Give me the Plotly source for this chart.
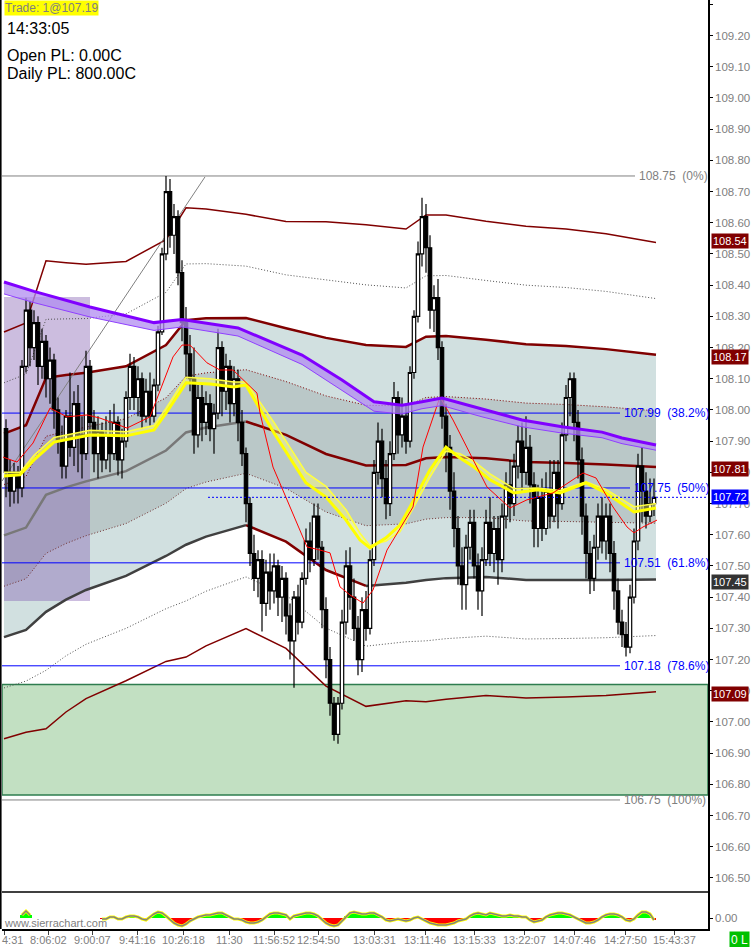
import plotly.graph_objects as go

# ---- candles (one bar ~ 4 px in the screenshot) ----
bars = list(range(163))
opens = [107.94, 107.80, 107.74, 107.80, 107.75, 108.14, 108.32, 108.20, 108.28, 108.14,
         108.22, 108.10, 108.16, 108.00, 107.90, 107.82, 107.98, 107.88, 108.02, 107.92,
         107.86, 108.14, 107.96, 107.86, 107.93, 107.84, 107.92, 107.86, 107.96, 107.84,
         107.90, 108.04, 108.14, 108.04, 108.10, 107.98, 108.06, 107.98, 108.08, 108.25,
         108.50, 108.70, 108.56, 108.62, 108.44, 108.28, 108.18, 108.10, 107.92, 108.04,
         107.96, 108.02, 107.94, 107.99, 108.20, 108.06, 108.14, 108.02, 108.10, 107.96,
         107.86, 107.70, 107.54, 107.46, 107.52, 107.38, 107.48, 107.42, 107.50, 107.40,
         107.46, 107.34, 107.26, 107.40, 107.32, 107.46, 107.58, 107.52, 107.66, 107.56,
         107.36, 107.20, 107.06, 106.96, 107.06, 107.32, 107.50, 107.40, 107.30, 107.20,
         107.36, 107.30, 107.52, 107.80, 107.90, 107.78, 107.70, 107.86, 108.04, 107.92,
         107.98, 107.90, 108.12, 108.30, 108.50, 108.62, 108.52, 108.32, 108.36, 108.20,
         107.98, 107.88, 107.74, 107.62, 107.50, 107.44, 107.56, 107.64, 107.50, 107.42,
         107.52, 107.64, 107.54, 107.62, 107.52, 107.66, 107.76, 107.70, 107.82, 107.90,
         107.80, 107.88, 107.76, 107.62, 107.72, 107.62, 107.74, 107.66, 107.80, 107.70,
         107.92, 108.04, 108.10, 107.96, 107.84, 107.66, 107.54, 107.46, 107.56, 107.66,
         107.58, 107.66, 107.54, 107.42, 107.32, 107.28, 107.24, 107.40, 107.58, 107.82,
         107.74, 107.66, 107.70]
closes = [107.80, 107.74, 107.80, 107.75, 108.14, 108.32, 108.20, 108.28, 108.14, 108.22,
          108.10, 108.16, 108.00, 107.90, 107.82, 107.98, 107.88, 108.02, 107.92, 107.86,
          108.14, 107.96, 107.86, 107.93, 107.84, 107.92, 107.86, 107.96, 107.84, 107.90,
          108.04, 108.14, 108.04, 108.10, 107.98, 108.06, 107.98, 108.08, 108.25, 108.50,
          108.70, 108.56, 108.62, 108.44, 108.28, 108.18, 108.10, 107.92, 108.04, 107.96,
          108.02, 107.94, 107.99, 108.20, 108.06, 108.14, 108.02, 108.10, 107.96, 107.86,
          107.70, 107.54, 107.46, 107.52, 107.38, 107.48, 107.42, 107.50, 107.40, 107.46,
          107.34, 107.26, 107.40, 107.32, 107.46, 107.58, 107.52, 107.66, 107.56, 107.36,
          107.20, 107.06, 106.96, 107.06, 107.32, 107.50, 107.40, 107.30, 107.20, 107.36,
          107.30, 107.52, 107.80, 107.90, 107.78, 107.70, 107.86, 108.04, 107.92, 107.98,
          107.90, 108.12, 108.30, 108.50, 108.62, 108.52, 108.32, 108.36, 108.20, 107.98,
          107.88, 107.74, 107.62, 107.50, 107.44, 107.56, 107.64, 107.50, 107.42, 107.52,
          107.64, 107.54, 107.62, 107.52, 107.66, 107.76, 107.70, 107.82, 107.90, 107.80,
          107.88, 107.76, 107.62, 107.72, 107.62, 107.74, 107.66, 107.80, 107.70, 107.92,
          108.04, 108.10, 107.96, 107.84, 107.66, 107.54, 107.46, 107.56, 107.66, 107.58,
          107.66, 107.54, 107.42, 107.32, 107.28, 107.24, 107.40, 107.58, 107.82, 107.74,
          107.66, 107.70, 107.72]
highs = [107.97, 107.84, 107.83, 107.82, 108.16, 108.36, 108.35, 108.32, 108.30, 108.26,
         108.24, 108.20, 108.18, 108.04, 107.95, 108.00, 108.12, 108.06, 108.08, 107.98,
         108.19, 108.16, 108.00, 107.98, 107.96, 107.98, 108.00, 108.02, 107.98, 107.94,
         108.06, 108.18, 108.17, 108.14, 108.12, 108.10, 108.12, 108.10, 108.27, 108.52,
         108.75, 108.74, 108.66, 108.64, 108.48, 108.33, 108.24, 108.20, 108.08, 108.08,
         108.06, 108.05, 108.02, 108.26, 108.22, 108.18, 108.16, 108.14, 108.13, 108.00,
         107.88, 107.72, 107.60, 107.55, 107.55, 107.52, 107.54, 107.54, 107.52, 107.50,
         107.48, 107.38, 107.42, 107.44, 107.48, 107.62, 107.64, 107.70, 107.70, 107.58,
         107.40, 107.24, 107.08, 107.08, 107.36, 107.55, 107.56, 107.46, 107.34, 107.40,
         107.42, 107.55, 107.84, 107.96, 107.94, 107.84, 107.90, 108.09, 108.06, 108.04,
         108.02, 108.14, 108.32, 108.54, 108.68, 108.66, 108.56, 108.40, 108.42, 108.22,
         108.02, 107.92, 107.80, 107.66, 107.56, 107.60, 107.68, 107.68, 107.54, 107.56,
         107.68, 107.72, 107.66, 107.66, 107.70, 107.80, 107.84, 107.86, 107.95, 107.96,
         107.98, 107.92, 107.80, 107.76, 107.78, 107.80, 107.84, 107.84, 107.84, 107.96,
         108.08, 108.12, 108.12, 108.00, 107.88, 107.70, 107.58, 107.60, 107.70, 107.72,
         107.70, 107.70, 107.58, 107.46, 107.36, 107.32, 107.44, 107.62, 107.86, 107.88,
         107.80, 107.78, 107.78]
lows = [107.72, 107.69, 107.70, 107.70, 107.72, 108.12, 108.14, 108.16, 108.08, 108.10,
        108.04, 108.02, 107.94, 107.86, 107.78, 107.78, 107.85, 107.82, 107.80, 107.78,
        107.84, 107.92, 107.80, 107.78, 107.80, 107.81, 107.80, 107.84, 107.79, 107.78,
        107.88, 108.00, 108.00, 107.98, 107.94, 107.96, 107.95, 107.96, 108.06, 108.24,
        108.48, 108.52, 108.50, 108.40, 108.22, 108.10, 108.06, 107.86, 107.88, 107.90,
        107.92, 107.90, 107.86, 107.97, 107.98, 108.00, 107.96, 107.98, 107.90, 107.82,
        107.64, 107.50, 107.42, 107.40, 107.29, 107.34, 107.36, 107.38, 107.34, 107.32,
        107.28, 107.20, 107.11, 107.28, 107.30, 107.44, 107.48, 107.50, 107.52, 107.30,
        107.14, 107.02, 106.94, 106.93, 107.04, 107.28, 107.36, 107.26, 107.15, 107.16,
        107.26, 107.28, 107.50, 107.76, 107.72, 107.65, 107.66, 107.84, 107.86, 107.88,
        107.86, 107.88, 108.10, 108.28, 108.46, 108.44, 108.26, 108.25, 108.16, 107.94,
        107.80, 107.68, 107.56, 107.44, 107.36, 107.36, 107.52, 107.46, 107.36, 107.34,
        107.50, 107.50, 107.48, 107.44, 107.48, 107.62, 107.64, 107.66, 107.78, 107.74,
        107.76, 107.70, 107.56, 107.56, 107.58, 107.60, 107.62, 107.64, 107.62, 107.68,
        107.90, 107.98, 107.90, 107.78, 107.60, 107.46, 107.41, 107.42, 107.52, 107.54,
        107.52, 107.48, 107.36, 107.28, 107.24, 107.21, 107.22, 107.38, 107.55, 107.64,
        107.62, 107.64, 107.66]

# ---- VWAP and its standard deviation, read at a few bars ----
band_bars = [-0.5, 5, 10, 15, 20, 30, 40, 45, 50, 60, 70, 80, 90, 100, 105, 110, 120, 130, 140, 150, 162.5]
vwap = [107.598, 107.623, 107.728, 107.752, 107.771, 107.804, 107.870, 107.928, 107.944, 107.963, 107.920,
        107.859, 107.822, 107.824, 107.845, 107.849, 107.845, 107.833, 107.830, 107.825, 107.817]
sigma = [0.163, 0.164, 0.1875, 0.180, 0.174, 0.168, 0.169, 0.180, 0.175, 0.166, 0.171,
         0.186, 0.193, 0.189, 0.195, 0.194, 0.190, 0.189, 0.1875, 0.185, 0.180]

# ---- moving averages ----
purple_bars = [-0.5, 7, 21, 37, 44, 49, 58, 74, 84, 92, 99, 104, 109, 119, 129, 139, 149, 154, 162.5]
purple_hi = [108.41, 108.38, 108.33, 108.28, 108.29, 108.28, 108.263, 108.176, 108.096, 108.026,
             108.015, 108.026, 108.038, 108.003, 107.968, 107.946, 107.929, 107.910, 107.888]
purple_lo = [108.372, 108.344, 108.298, 108.255, 108.266, 108.255, 108.237, 108.146, 108.064, 107.996,
             107.987, 108.004, 108.014, 107.978, 107.946, 107.926, 107.911, 107.892, 107.871]

yellow_bars = [-0.5, 3.5, 7, 12, 21, 30, 37, 40, 45, 51, 57, 60, 67, 75, 80, 85, 88.5, 91, 95, 98.5,
               102, 106, 110, 113.5, 117, 121, 127, 133, 138.5, 145, 150, 157, 162.5]
yellow_a = [107.788, 107.792, 107.840, 107.897, 107.920, 107.917, 107.936, 107.990, 108.087, 108.083,
            108.074, 108.080, 107.926, 107.766, 107.721, 107.647, 107.583, 107.558, 107.590, 107.631,
            107.712, 107.808, 107.881, 107.846, 107.817, 107.776, 107.734, 107.744, 107.734, 107.766,
            107.734, 107.673, 107.686]
yellow_b = [107.800, 107.800, 107.855, 107.912, 107.935, 107.930, 107.950, 108.005, 108.105, 108.100,
            108.090, 108.090, 107.960, 107.800, 107.755, 107.680, 107.605, 107.565, 107.580, 107.610,
            107.690, 107.785, 107.868, 107.860, 107.835, 107.795, 107.748, 107.750, 107.742, 107.770,
            107.745, 107.690, 107.700]

red_bars = [-0.75, 2.75, 6.75, 11, 15.25, 20.25, 23.5, 30.25, 36, 41.75, 44, 46, 50.25, 53.5, 56.75,
            58.5, 62.75, 63.5, 66.75, 70.25, 75.25, 78.5, 81, 83.5, 86, 89.25, 91.75, 95.25, 98.5,
            101.75, 104.25, 108.5, 111.75, 116, 120.25, 126, 130.25, 136.75, 141.75, 144.25, 147.5,
            151.75, 155.25, 157, 159.25, 162.75]
red_vals = [107.849, 107.833, 107.894, 108.006, 107.978, 107.984, 107.974, 107.942, 107.978, 108.170,
            108.208, 108.208, 108.151, 108.128, 108.128, 108.106, 108.054, 107.990, 107.817, 107.712,
            107.561, 107.551, 107.542, 107.433, 107.407, 107.381, 107.423, 107.551, 107.622, 107.689,
            107.881, 108.042, 107.968, 107.862, 107.753, 107.686, 107.712, 107.734, 107.776, 107.798,
            107.782, 107.689, 107.625, 107.606, 107.625, 107.647]

# ---- oscillator in the lower pane ----
osc = [None, None, None, None, 3, 7, 3, None, None, None,
       None, None, None, None, None, None, None, None, None, None,
       None, None, None, None, -1, -1, 1, 1, -1, -1,
       1, 2, 2, 1, -1, -2, 1, 4, 6, 5,
       2, -2, -5, -7, -8, -6, -3, -1, 1, 2,
       3, 3, 4, 5, 5, 3, 1, -1, -1, -2,
       -4, -5, -5, -4, -2, 1, 4, 5, 5, 4,
       3, -1, 2, 3, 4, 5, 5, 4, 2, -2,
       -5, -7, -8, -7, -3, 2, 5, 6, 5, 4,
       4, 5, 5, 3, 1, -2, -3, -2, -1, -2,
       -3, -2, 0, 1, -1, -3, -5, -6, -7, -7,
       -7, -6, -5, -3, -2, -1, 2, 4, 5, 4,
       3, 5, 4, 3, 2, 2, 3, 2, 2, 1,
       1, -2, -4, -3, -2, 1, 3, 4, 5, 5,
       4, 3, 1, -1, -3, -5, -5, -4, -2, 1,
       3, 4, 4, 3, 1, -2, -3, -1, 3, 6,
       6, 4, -2]

# ---- drawing tools ----
fib_levels = [108.75, 107.99, 107.75, 107.51, 107.18, 106.75]
fib_pcts = ["0%", "38.2%", "50%", "61.8%", "78.6%", "100%"]
fib_colors = ["#808080", "#0000FF", "#0000FF", "#0000FF", "#0000FF", "#808080"]
fib_ends = [157.25, 153.5, 156, 153.5, 153.5, 153.5]
fib_label_x = [157.75, 154, 156.5, 154, 154, 154]

zone_x = [-0.5, 21]
zone_y = [107.388, 108.362]
green_zone_y = [106.766, 107.12]
diag_x = [-1, 49.75]
diag_y = [107.772, 108.747]
last_price = 107.72
last_line_start = 50.5

tag_values = [108.54, 108.17, 107.81, 107.72, 107.45, 107.09]
tag_colors = ["#800000", "#800000", "#800000", "#0000FF", "#333333", "#800000"]

tick_bars = [-0.5, 10.5, 21.5, 32.75, 44.25, 55.75, 67, 78, 92, 104.75, 117, 129.5, 142, 154.75, 167]
tick_text = ["4:31", "8:06:02", "9:00:07", "9:41:16", "10:26:18", "11:30", "11:56:52", "12:54:50",
             "13:03:31", "13:11:46", "13:15:33", "13:22:07", "14:07:46", "14:27:50", "15:43:37"]

MAROON = "#800000"
FONT = "Liberation Sans, Arial, sans-serif"
pane_split = 37 / 929
label_y = -11 / 929

fig = go.Figure()
shapes = []


def path_of(xs, ys, close=False):
    p = "M " + " L ".join(f"{x},{y}" for x, y in zip(xs, ys))
    return p + " Z" if close else p


def band_fill(xs, hi, lo, color):
    shapes.append(dict(type="path", xref="x", yref="y", layer="below",
                       path=path_of(list(xs) + list(xs)[::-1], list(hi) + list(lo)[::-1], True),
                       fillcolor=color, line=dict(width=0)))


def band_line(xs, ys, color, width=1.0, dash="solid"):
    shapes.append(dict(type="path", xref="x", yref="y", layer="below", path=path_of(xs, ys),
                       line=dict(color=color, width=width, dash=dash)))


def line(x, y, color, width=1.0, dash=None, yaxis="y", fill=None, fillcolor=None):
    fig.add_trace(go.Scatter(x=x, y=y, mode="lines", yaxis=yaxis, hoverinfo="skip",
                             line=dict(color=color, width=width, dash=dash),
                             fill=fill, fillcolor=fillcolor))


up = {k: [v + k * s for v, s in zip(vwap, sigma)] for k in (1, 2, 3, 4)}
dn = {k: [v - k * s for v, s in zip(vwap, sigma)] for k in (1, 2, 3, 4)}

# green demand zone
shapes.append(dict(type="rect", xref="x", yref="y", x0=-1, x1=175.5, y0=green_zone_y[0], y1=green_zone_y[1],
                   fillcolor="#C2E0C2", line=dict(color="#2E7D4F", width=1.5), layer="below"))
# band fills
band_fill(band_bars, up[2], dn[2], "#D1E0E0")
band_fill(band_bars, up[1], dn[1], "#BAC8C8")
# purple zone box
shapes.append(dict(type="rect", xref="x", yref="y", x0=zone_x[0], x1=zone_x[1], y0=zone_y[0], y1=zone_y[1],
                   fillcolor="rgba(133,98,178,0.42)", line=dict(width=0), layer="below"))
# band lines
band_line(band_bars, up[4], MAROON, 1.5)
band_line(band_bars, dn[4], MAROON, 1.5)
band_line(band_bars, up[3], "#505050", 1, "1px,2px")
band_line(band_bars, dn[3], "#505050", 1, "1px,2px")
band_line(band_bars, up[1], MAROON, 1, "1px,2px")
band_line(band_bars, dn[1], "#703030", 1, "1px,2px")
band_line(band_bars, up[2], MAROON, 2.5)
band_line(band_bars[:10], dn[2][:10], "#404040", 2.5)
band_line(band_bars[9:13], dn[2][9:13], MAROON, 2.5)
band_line(band_bars[12:], dn[2][12:], "#404040", 2.5)
band_line(band_bars[:10], vwap[:10], "#787878", 2.5)
band_line(band_bars[9:], vwap[9:], MAROON, 2.5)
# fib lines and the diagonal
for lvl, col, end in zip(fib_levels, fib_colors, fib_ends):
    band_line([-1, end], [lvl, lvl], col, 1)
band_line(diag_x, diag_y, "#808080", 1)

# candles
fig.add_trace(go.Candlestick(
    x=bars, open=opens, high=highs, low=lows, close=closes,
    increasing=dict(line=dict(color="black", width=1.2), fillcolor="white"),
    decreasing=dict(line=dict(color="black", width=1.2), fillcolor="black"),
    whiskerwidth=0, hoverinfo="skip"))

# moving averages on top
line(yellow_bars, yellow_b, "#FFFF40", 1.5)
line(yellow_bars, yellow_a, "#FFFF00", 3, fill="tonexty", fillcolor="rgba(255,255,120,0.45)")
line(red_bars, red_vals, "#FF0000", 1)
line(purple_bars, purple_lo, "#9040FF", 1)
line(purple_bars, purple_hi, "#8000FF", 3, fill="tonexty", fillcolor="rgba(176,140,240,0.75)")
line([last_line_start, 175.5], [last_price, last_price], "#0000FF", 1, "2px,2px")

# oscillator pane
fig.add_trace(go.Bar(x=bars, y=osc, yaxis="y2", width=1, hoverinfo="skip",
                     marker=dict(color=["#00FF00" if (v is not None and v >= 0) else "#FF0000" for v in osc],
                                 line=dict(width=0))))
line(bars, osc, "#FFFF00", 3, yaxis="y2")
line(bars, osc, "#808080", 1.5, yaxis="y2")

# texts
ann = []
ann.append(dict(xref="paper", yref="paper", x=0, y=1, xanchor="left", yanchor="top", xshift=2,
                text="Trade: 1@107.19", bgcolor="#FFFF00", borderpad=0,
                font=dict(size=12, color="#808080")))
ann.append(dict(xref="paper", yref="paper", x=0, y=1, xanchor="left", yanchor="top", xshift=3, yshift=-18,
                text="14:33:05", font=dict(size=16, color="black")))
ann.append(dict(xref="paper", yref="paper", x=0, y=1, xanchor="left", yanchor="top", xshift=3, yshift=-45,
                text="Open PL: 0.00C", font=dict(size=16, color="black")))
ann.append(dict(xref="paper", yref="paper", x=0, y=1, xanchor="left", yanchor="top", xshift=3, yshift=-63,
                text="Daily PL: 800.00C", font=dict(size=16, color="black")))
for lvl, pct, col, lx in zip(fib_levels, fib_pcts, fib_colors, fib_label_x):
    ann.append(dict(xref="x", yref="y", x=lx, y=lvl, xanchor="left", yanchor="middle",
                    text=f"{lvl:.2f}\u00a0\u00a0({pct})", font=dict(size=12, color=col)))
for val, col in zip(tag_values, tag_colors):
    ann.append(dict(xref="paper", yref="y", x=1, y=val, xanchor="left", yanchor="middle", xshift=3,
                    text=f"{val:.2f}", bgcolor=col, borderpad=1, font=dict(size=11, color="white")))
ann.append(dict(xref="paper", yref="y2", x=0, y=-5, xanchor="left", yanchor="middle",
                text="www.sierrachart.com", font=dict(size=11, color="#808080")))
ann.append(dict(xref="paper", yref="paper", x=1, y=label_y, xanchor="left", yanchor="middle", xshift=21,
                text="0 L", bgcolor="#00C000", borderpad=1, font=dict(size=12, color="white")))
# time labels under the x axis
for i, (tb, tt) in enumerate(zip(tick_bars, tick_text)):
    if i == 0:
        ann.append(dict(xref="paper", yref="paper", x=0, y=label_y, xanchor="left", yanchor="middle",
                        xshift=-2, text=tt, font=dict(size=11, color="#808080")))
    else:
        ann.append(dict(xref="x", yref="paper", x=tb, y=label_y, xanchor="center", yanchor="middle",
                        text=tt, font=dict(size=11, color="#808080")))
for a in ann:
    a["showarrow"] = False

shapes.append(dict(type="line", xref="paper", yref="paper", x0=0, x1=1, y0=pane_split, y1=pane_split,
                   line=dict(color="black", width=1.5)))
shapes.append(dict(type="line", xref="paper", yref="paper", x0=-0.002, x1=-0.002, y0=0, y1=1,
                   line=dict(color="black", width=2)))

fig.update_layout(
    template="none",
    width=751, height=947,
    margin=dict(l=2, r=43, t=0, b=18),
    paper_bgcolor="white", plot_bgcolor="white",
    showlegend=False, boxgap=0.15, boxgroupgap=0, bargap=0,
    font=dict(family=FONT, size=12, color="#808080"),
    annotations=ann,
    shapes=shapes,
    xaxis=dict(range=[-1, 175.5], anchor="y2", tickmode="array", tickvals=tick_bars, showticklabels=False,
               ticks="outside", ticklen=4, tickcolor="#404040", showline=True, linecolor="black",
               linewidth=1.5, showgrid=False, zeroline=False, automargin=False,
               rangeslider=dict(visible=False)),
    yaxis=dict(domain=[pane_split, 1], range=[106.455, 109.314], side="right", anchor="x",
               dtick=0.1, tick0=0, tickformat=".2f", ticks="outside", ticklen=3, tickcolor="black",
               showline=True, linecolor="black", linewidth=1.5, showgrid=False, zeroline=False,
               automargin=False, tickfont=dict(size=11.5, color="#808080")),
    yaxis2=dict(domain=[0, pane_split], range=[-11, 26], side="right", anchor="x",
                tickmode="array", tickvals=[0], ticktext=["0.00"], ticks="outside", ticklen=3,
                tickcolor="black", showline=True, linecolor="black", linewidth=1.5, showgrid=False,
                zeroline=False, automargin=False, tickfont=dict(size=11.5, color="#808080")),
)

# the page body has an 8px default margin; drop it so the figure fills the window
fig.write_html("out.html", config={"displayModeBar": False},
               post_script="document.body.style.margin='0';document.body.style.overflow='hidden';")
